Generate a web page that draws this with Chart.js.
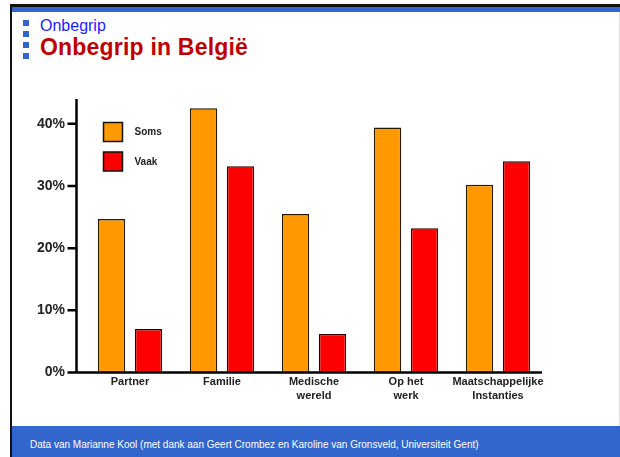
<!DOCTYPE html>
<html>
<head>
<meta charset="utf-8">
<script src="https://cdn.jsdelivr.net/npm/chart.js@4"></script>
<style>
    body { margin: 0; background: #fff; font-family: 'Liberation Sans', Arial, sans-serif; }
    #slide { position: relative; width: 620px; height: 457px; overflow: hidden; }
    .topline { position: absolute; left: 10px; top: 4px; width: 610px; height: 3px; background: #111; }
    .topband { position: absolute; left: 12px; top: 7px; width: 608px; height: 5px; background: #3366cc; }
    .leftline { position: absolute; left: 10px; top: 4px; width: 2px; height: 453px; background: #111; }
    .rightline { position: absolute; left: 619px; top: 12px; width: 1px; height: 414px; background: #ddd; }
    .sq { position: absolute; left: 23px; width: 6px; height: 6px; background: #3366cc; }
    .sub { position: absolute; left: 40px; top: 17px; font-size: 16px; color: #1a1aff; }
    .title { position: absolute; left: 40px; top: 34px; font-size: 23px; letter-spacing: 0.2px; font-weight: bold; color: #c00000; }
    .footer { position: absolute; left: 12px; top: 426px; width: 608px; height: 31px; background: #3366cc; }
    .footer span { position: absolute; left: 18px; top: 13px; font-size: 10px; color: #fff; }
    #chart { position: absolute; left: 0; top: 0; }
</style>
</head>
<body>
<div id="slide">
    <div class="topline"></div>
    <div class="topband"></div>
    <div class="leftline"></div>
    <div class="rightline"></div>
    <div class="sq" style="top:20px"></div>
    <div class="sq" style="top:31px"></div>
    <div class="sq" style="top:42px"></div>
    <div class="sq" style="top:53px"></div>
    <div class="sub">Onbegrip</div>
    <div class="title">Onbegrip in België</div>
    <div class="footer"><span>Data van Marianne Kool (met dank aan Geert Crombez en Karoline van Gronsveld, Universiteit Gent)</span></div>
    <canvas id="chart" width="620" height="457"></canvas>
</div>
<script>
// Data
const categories = ['Partner', 'Familie', ['Medische', 'wereld'], ['Op het', 'werk'], ['Maatschappelijke', 'Instanties']];
const somsValues = [24.7, 42.5, 25.5, 39.4, 30.2];
const vaakValues = [7.0, 33.2, 6.2, 23.2, 34.0];
const yTicks = [0, 10, 20, 30, 40];

const FONT = "'Liberation Sans', Arial, sans-serif";

// Axis lines + tick marks, drawn a bit left of the plot like the original
const axisPlugin = {
    id: 'axisLines',
    afterDraw(chart) {
        const { ctx, chartArea, scales } = chart;
        const ax = chartArea.left - 7.5;
        const bottom = scales.y.getPixelForValue(0);
        ctx.save();
        ctx.strokeStyle = '#000';
        ctx.lineWidth = 2.5;
        ctx.beginPath();
        ctx.moveTo(ax, chartArea.top);
        ctx.lineTo(ax, bottom + 1.2);
        ctx.moveTo(ax - 9, bottom);
        ctx.lineTo(chartArea.right - 2, bottom);
        yTicks.forEach(v => {
            const y = scales.y.getPixelForValue(v);
            ctx.moveTo(ax - 9, y);
            ctx.lineTo(ax, y);
        });
        ctx.stroke();
        ctx.restore();
    }
};

// Legend in the upper left of the plot
const legendPlugin = {
    id: 'boxLegend',
    afterDraw(chart) {
        const { ctx, chartArea } = chart;
        ctx.save();
        chart.data.datasets.forEach((ds, i) => {
            const x = chartArea.left + 19.5;
            const y = chartArea.top + 23.5 + i * 29.5;
            ctx.fillStyle = ds.backgroundColor;
            ctx.fillRect(x, y, 19, 19);
            ctx.strokeStyle = '#111';
            ctx.lineWidth = 1.5;
            ctx.strokeRect(x, y, 19, 19);
            ctx.fillStyle = '#222';
            ctx.font = 'bold 10px ' + FONT;
            ctx.textBaseline = 'middle';
            ctx.fillText(ds.label, x + 31, y + 10);
        });
        ctx.restore();
    }
};

new Chart(document.getElementById('chart'), {
    type: 'bar',
    data: {
        labels: categories,
        datasets: [
            {
                label: 'Soms',
                data: somsValues,
                backgroundColor: '#ff9900',
                borderColor: '#2a1800',
                borderWidth: 1.5,
                categoryPercentage: 0.804,
                barPercentage: 0.74
            },
            {
                label: 'Vaak',
                data: vaakValues,
                backgroundColor: '#ff0000',
                borderColor: '#330000',
                borderWidth: 1.5,
                categoryPercentage: 0.804,
                barPercentage: 0.74
            }
        ]
    },
    options: {
        responsive: false,
        animation: false,
        layout: {
            padding: { left: 0, top: 99, right: 76, bottom: 54.5 }
        },
        plugins: {
            legend: { display: false },
            tooltip: { enabled: false }
        },
        scales: {
            x: {
                grid: { display: false, drawTicks: false },
                border: { display: false },
                ticks: {
                    padding: 3,
                    maxRotation: 0,
                    autoSkip: false,
                    color: '#222',
                    font: { size: 11, weight: 'bold', family: FONT, lineHeight: 1.25 }
                },
                afterFit: scale => { scale.height = 30; }
            },
            y: {
                min: 0,
                max: 44,
                grid: { display: false, drawTicks: false },
                border: { display: false },
                afterBuildTicks: scale => {
                    scale.ticks = yTicks.map(v => ({ value: v }));
                },
                ticks: {
                    padding: 19,
                    color: '#222',
                    font: { size: 14, weight: 'bold', family: FONT },
                    callback: value => value + '%'
                },
                afterFit: scale => { scale.width = 84; }
            }
        }
    },
    plugins: [axisPlugin, legendPlugin]
});
</script>
</body>
</html>
